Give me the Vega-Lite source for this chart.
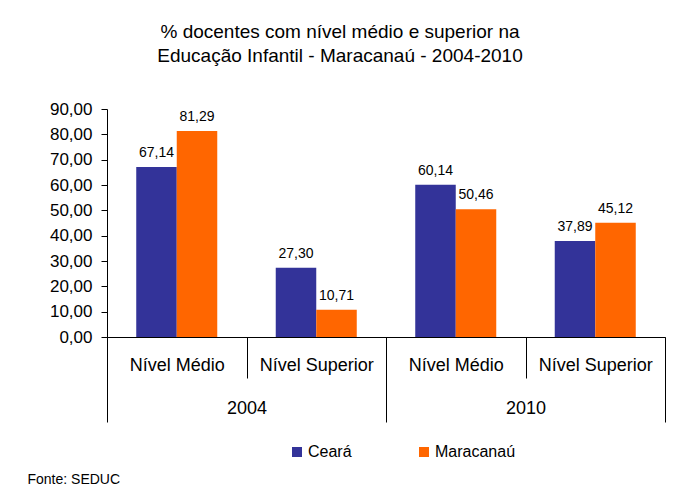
{
  "$schema": "https://vega.github.io/schema/vega-lite/v6.json",
  "width": 558,
  "height": 228,
  "autosize": {"type": "none"},
  "padding": {"left": 107, "top": 109, "right": 19, "bottom": 164},
  "background": "white",
  "config": {
    "locale": {"number": {"decimal": ",", "thousands": ".", "grouping": [3], "currency": ["R$", ""]}},
    "font": "Liberation Sans",
    "view": {"stroke": null},
    "axis": {"grid": false, "domainColor": "black", "tickColor": "black", "labelColor": "black", "labelFont": "Liberation Sans", "titleFont": "Liberation Sans"}
  },
  "title": {
    "text": ["% docentes com nível médio e superior na", "Educação Infantil - Maracanaú - 2004-2010"],
    "fontSize": 19,
    "fontWeight": "normal",
    "font": "Liberation Sans",
    "color": "black",
    "anchor": "middle",
    "lineHeight": 24,
    "offset": 34,
    "dx": -46
  },
  "data": {
    "values": [
      {"ano": "2004", "grupo": "2004 Nível Médio", "serie": "Ceará", "valor": 67.14},
      {"ano": "2004", "grupo": "2004 Nível Médio", "serie": "Maracanaú", "valor": 81.29},
      {"ano": "2004", "grupo": "2004 Nível Superior", "serie": "Ceará", "valor": 27.30},
      {"ano": "2004", "grupo": "2004 Nível Superior", "serie": "Maracanaú", "valor": 10.71},
      {"ano": "2010", "grupo": "2010 Nível Médio", "serie": "Ceará", "valor": 60.14},
      {"ano": "2010", "grupo": "2010 Nível Médio", "serie": "Maracanaú", "valor": 50.46},
      {"ano": "2010", "grupo": "2010 Nível Superior", "serie": "Ceará", "valor": 37.89},
      {"ano": "2010", "grupo": "2010 Nível Superior", "serie": "Maracanaú", "valor": 45.12}
    ]
  },
  "layer": [
    {
      "encoding": {
        "x": {
          "field": "grupo", "type": "nominal", "sort": null,
          "scale": {"paddingInner": 0, "paddingOuter": 0},
          "axis": {
            "orient": "bottom", "title": null, "labelAngle": 0,
            "labelExpr": "slice(datum.label, 5)",
            "tickBand": "extent", "tickSize": 41,
            "labelBaseline": "middle", "labelPadding": -13,
            "labelFontSize": 18, "domainColor": "black"
          }
        },
        "xOffset": {
          "field": "serie", "type": "nominal", "sort": ["Ceará", "Maracanaú"],
          "scale": {"paddingOuter": 0.722, "paddingInner": 0}
        },
        "y": {
          "field": "valor", "type": "quantitative",
          "scale": {"domain": [0, 90]},
          "axis": {
            "title": null, "values": [0, 10, 20, 30, 40, 50, 60, 70, 80, 90],
            "format": ".2f", "labelFontSize": 17, "tickSize": 6, "labelPadding": 9,
            "labelOverlap": false
          }
        }
      },
      "layer": [
        {
          "mark": {"type": "bar"},
          "encoding": {
            "color": {
              "field": "serie", "type": "nominal",
              "scale": {"domain": ["Ceará", "Maracanaú"], "range": ["#333399", "#FF6600"]},
              "legend": {
                "orient": "none", "legendX": 182, "legendY": 335,
                "direction": "horizontal", "title": null,
                "symbolType": "square", "symbolSize": 100, "symbolStrokeWidth": 0,
                "labelFontSize": 16, "labelColor": "black", "labelFont": "Liberation Sans",
                "columnPadding": 64, "labelOffset": 3, "padding": 0
              }
            }
          }
        },
        {
          "mark": {"type": "text", "baseline": "alphabetic", "dy": -10, "fontSize": 14, "color": "black", "font": "Liberation Sans"},
          "encoding": {
            "text": {"field": "valor", "type": "quantitative", "format": ".2f"}
          }
        }
      ]
    },
    {
      "mark": {"type": "point", "opacity": 0},
      "encoding": {
        "x": {
          "field": "ano", "type": "nominal",
          "scale": {"paddingInner": 0, "paddingOuter": 0},
          "axis": {
            "orient": "bottom", "labelAngle": 0,
            "title": "Fonte: SEDUC", "titleX": -80, "titleY": 142,
            "titleAlign": "left", "titleBaseline": "middle", "titleFontSize": 14,
            "titleFontWeight": "normal", "titleColor": "black",
            "tickBand": "extent", "tickSize": 85,
            "labelBaseline": "middle", "labelPadding": -14, "labelFontSize": 18,
            "domain": false
          }
        }
      }
    }
  ],
  "resolve": {"scale": {"x": "independent"}, "axis": {"x": "independent"}}
}
